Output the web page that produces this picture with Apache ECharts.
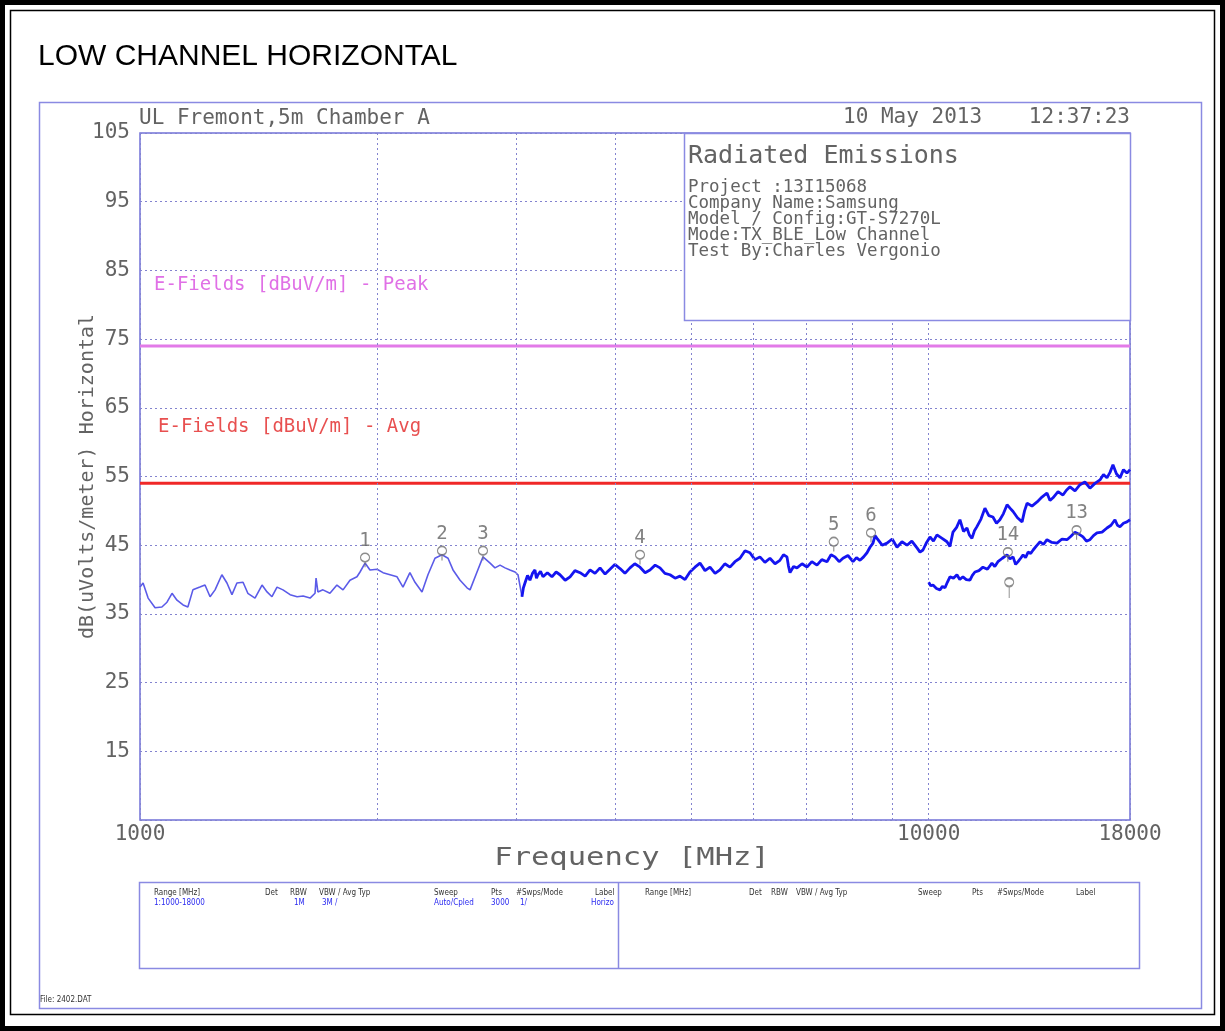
<!DOCTYPE html>
<html>
<head>
<meta charset="utf-8">
<script src="https://cdn.jsdelivr.net/npm/echarts@6/dist/echarts.min.js"></script>
<style>
html,body{margin:0;padding:0;background:#fff;}
#chart{width:1225px;height:1031px;}
</style>
</head>
<body>
<div id="chart"></div>
<script>
// ---------- data ----------
var yTicks = [15, 25, 35, 45, 55, 65, 75, 85, 95, 105];
var xGridFreqs = [2000, 3000, 4000, 5000, 6000, 7000, 8000, 9000];
var peakLimit = [[1000, 74], [18000, 74]];
var avgLimit = [[1000, 54], [18000, 54]];

var traceLow = [
 [1000,38.9],[1009,39.5],[1024,37.3],[1045,35.9],[1066,36.0],[1082,36.7],[1098,38.0],[1114,37.0],
 [1134,36.3],[1150,36.0],[1167,38.5],[1191,38.9],[1209,39.2],[1227,37.5],[1245,38.5],[1270,40.7],
 [1289,39.5],[1308,37.8],[1327,39.5],[1351,39.6],[1370,38.0],[1399,37.3],[1428,39.2],[1449,38.2],
 [1470,37.5],[1492,38.9],[1518,38.5],[1550,37.8],[1582,37.5],[1610,37.6],[1643,37.3],[1667,38.0],
 [1672,40.2],[1681,38.2],[1706,38.5],[1741,38.0],[1777,39.2],[1809,38.5],[1846,39.9],[1884,40.4],
 [1901,41.1],[1929,42.4],[1957,41.4],[1998,41.5],[2033,41.0],[2075,40.7],[2118,40.4],[2155,38.9],
 [2199,41.0],[2232,39.6],[2278,38.2],[2318,40.7],[2366,43.1],[2415,43.6],[2458,43.1],[2494,41.4],
 [2546,39.9],[2598,38.8],[2621,38.5],[2675,41.1],[2722,43.3],[2779,42.4],[2819,41.7],[2861,42.1],
 [2903,41.7],[2945,41.4],[2989,41.1],[3015,40.7],[3050,37.5]
];
var traceHigh = [
 [3050,37.5],[3063,38.8],[3077,39.5],[3100,40.6],[3122,39.9],[3145,40.9],[3168,41.4],[3182,40.2],
 [3196,40.7],[3220,41.2],[3243,40.4],[3285,41.0],[3329,40.4],[3370,41.1],[3408,40.7],[3460,39.9],
 [3510,40.4],[3560,41.3],[3614,41.0],[3668,40.5],[3721,41.4],[3775,40.9],[3831,41.7],[3888,40.8],
 [3944,41.5],[4000,42.2],[4061,41.6],[4120,40.9],[4181,41.7],[4240,42.3],[4305,41.8],[4370,41.0],
 [4432,41.4],[4500,42.1],[4564,41.7],[4630,40.9],[4699,40.7],[4770,40.2],[4838,40.5],[4910,40.0],
 [4981,41.1],[5055,41.8],[5129,42.4],[5205,41.3],[5281,41.8],[5360,40.9],[5437,41.4],[5515,42.3],
 [5598,41.8],[5680,42.6],[5764,43.1],[5850,44.2],[5934,43.9],[6020,42.9],[6110,43.3],[6200,42.5],
 [6291,43.1],[6385,42.3],[6477,42.8],[6545,43.6],[6612,43.3],[6640,42.0],[6671,41.0],[6740,41.9],
 [6808,41.7],[6910,42.3],[7010,41.8],[7110,42.6],[7217,42.1],[7320,42.9],[7431,42.6],[7520,43.6],
 [7606,43.3],[7700,42.6],[7786,43.1],[7900,43.5],[8017,42.6],[8100,43.2],[8183,42.8],[8270,43.3],
 [8352,43.9],[8426,44.7],[8500,45.3],[8550,46.4],[8600,46.0],[8730,45.0],[8855,45.3],[8990,45.9],
 [9117,44.7],[9250,45.5],[9387,45.0],[9520,45.6],[9665,44.6],[9750,44.0],[9835,44.3],[9940,45.4],
 [10039,46.2],[10140,45.6],[10245,46.5],[10400,46.0],[10549,45.5],[10640,44.8],[10735,46.9],[10850,47.6],
 [10956,48.7],[11070,47.0],[11183,47.5],[11260,46.5],[11346,46.0],[11430,47.1],[11513,47.7],[11650,48.8],
 [11785,50.4],[11920,49.3],[12063,49.1],[12190,48.2],[12311,48.7],[12440,49.6],[12572,50.9],[12680,50.4],
 [12794,49.9],[12960,49.0],[13136,48.4],[13230,50.0],[13328,51.1],[13520,50.7],[13724,51.3],[13920,52.0],
 [14125,52.6],[14250,51.5],[14375,51.9],[14590,52.8],[14800,52.3],[14950,53.0],[15107,53.5],[15330,52.9],
 [15555,53.8],[15780,54.2],[16014,53.3],[16250,54.0],[16489,54.5],[16660,55.3],[16829,54.8],[16980,55.6],
 [17127,56.7],[17300,55.4],[17481,54.8],[17660,56.0],[17840,55.5],[18000,56.0]
];
var traceAvg = [
 [10000,39.6],[10060,39.1],[10127,39.2],[10230,38.7],[10335,38.5],[10410,39.0],[10488,38.8],[10560,39.6],
 [10641,40.4],[10750,40.2],[10860,40.7],[10950,40.0],[11052,40.4],[11160,40.0],[11281,39.9],[11360,40.6],
 [11446,41.1],[11580,41.3],[11717,41.8],[11870,41.5],[12028,42.4],[12130,41.9],[12240,42.6],[12400,43.1],
 [12572,43.6],[12680,43.0],[12794,43.3],[12890,42.2],[12982,42.6],[13080,43.1],[13175,43.6],[13270,43.2],
 [13368,44.0],[13470,43.8],[13566,44.3],[13700,44.9],[13845,45.5],[13980,45.1],[14125,45.8],[14330,45.4],
 [14545,45.3],[14760,45.9],[14975,45.8],[15150,46.3],[15329,46.9],[15510,46.6],[15692,46.2],[15850,45.6],
 [16014,45.8],[16180,46.4],[16345,46.8],[16590,46.9],[16829,47.5],[17030,47.9],[17227,48.7],[17350,47.9],
 [17481,47.7],[17660,48.2],[17840,48.4],[18000,48.7]
];
var markerLabels = ['1', '2', '3', '4', '5', '6', '14', '13'];
var markerFreqs  = [1929, 2415, 2722, 4305, 7580, 8450, 12600, 15400];
var markerValues = [42.3, 43.3, 43.3, 42.7, 44.6, 45.9, 43.1, 46.3];
var lowMarker = [[12650, 37.3]];

var infoLines = ['Project :13I15068', 'Company Name:Samsung', 'Model / Config:GT-S7270L',
                 'Mode:TX_BLE_Low Channel', 'Test By:Charles Vergonio'];
var tableHeads = ['Range [MHz]', 'Det', 'RBW', 'VBW / Avg Typ', 'Sweep', 'Pts', '#Swps/Mode', 'Label'];
var tableRow = ['1:1000-18000', '', '1M', '3M /', 'Auto/Cpled', '3000', '1/', 'Horizo'];

// ---------- chart ----------
var MONO = '"DejaVu Sans Mono", "Liberation Mono", monospace';
var GRAY = '#636363';
var GRIDC = '#8383cf';
var headX1 = [154, 265, 290, 319, 434, 491, 516, 595];
var headX2 = [645, 749, 771, 796, 918, 972, 997, 1076];
var rowX = [154, 265, 294, 322, 434, 491, 520, 591];

var chart = echarts.init(document.getElementById('chart'), null, {renderer: 'canvas'});

function txt(t, x, y, font, fill, align, z) {
  return {type: 'text', z: z || 50, style: {text: t, x: x, y: y, font: font, fill: fill,
    align: align || 'left', verticalAlign: 'middle', textAlign: align || 'left', textVerticalAlign: 'middle'}};
}

var graphics = [
  {type: 'rect', silent: true, z: 200, shape: {x: 2.5, y: 2.5, width: 1220, height: 1026}, style: {fill: 'none', stroke: '#000', lineWidth: 5}},
  {type: 'rect', silent: true, z: 200, shape: {x: 10.5, y: 10.5, width: 1204, height: 1004}, style: {fill: 'none', stroke: '#000', lineWidth: 1.5}},
  {type: 'rect', silent: true, z: 1, shape: {x: 39.5, y: 102.5, width: 1162, height: 906}, style: {fill: 'none', stroke: '#8a8ae2', lineWidth: 1.5}},
  txt('LOW CHANNEL HORIZONTAL', 38, 57, '30px "Liberation Sans", Arial, sans-serif', '#000', 'left', 200),
  txt('UL Fremont,5m Chamber A', 139, 119, '21px ' + MONO, GRAY),
  txt('10 May 2013', 843, 118, '21px ' + MONO, GRAY),
  txt('12:37:23', 1130, 118, '21px ' + MONO, GRAY, 'right'),
  {type: 'rect', silent: true, z: 60, shape: {x: 684.5, y: 133.5, width: 446, height: 187}, style: {fill: '#fff', stroke: '#8a8ae2', lineWidth: 1.5}},
  txt('Radiated Emissions', 688, 156, '25px ' + MONO, GRAY, 'left', 61),
  txt('E-Fields [dBuV/m] - Peak', 154, 285, '19px ' + MONO, '#e070e6'),
  txt('E-Fields [dBuV/m] - Avg', 158, 427, '19px ' + MONO, '#e85050'),
  {type: 'text', z: 50, x: 632, y: 858, scaleX: 1.22, scaleY: 1, style: {text: 'Frequency [MHz]', x: 0, y: 0, font: '25px ' + MONO, fill: GRAY, align: 'center', verticalAlign: 'middle', textAlign: 'center', textVerticalAlign: 'middle'}},
  {type: 'rect', silent: true, z: 50, shape: {x: 139.5, y: 882.5, width: 1000, height: 86}, style: {fill: 'none', stroke: '#8a8ae2', lineWidth: 1.5}},
  {type: 'line', silent: true, z: 50, shape: {x1: 618.5, y1: 882.5, x2: 618.5, y2: 968.5}, style: {stroke: '#8a8ae2', lineWidth: 1.5}},
  txt('File: 2402.DAT', 40, 1000, '8px "DejaVu Sans Condensed", "Liberation Sans Narrow", sans-serif', '#333')
];
infoLines.forEach(function (t, i) {
  graphics.push(txt(t, 688, 187 + i * 16.2, '17.5px ' + MONO, GRAY, 'left', 61));
});
var TF = '8px "DejaVu Sans Condensed", "Liberation Sans Narrow", sans-serif';
tableHeads.forEach(function (t, i) {
  graphics.push(txt(t, headX1[i], 893, TF, '#333', 'left', 51));
  graphics.push(txt(t, headX2[i], 893, TF, '#333', 'left', 51));
});
tableRow.forEach(function (t, i) {
  graphics.push(txt(t, rowX[i], 903, TF, '#2a2af0', 'left', 51));
});

var markerPath = 'path://M5,1 A4,4 0 1,1 4.99,1 Z M5,9 L5,14';
var longMarkerPath = 'path://M5,1 A4,4 0 1,1 4.99,1 Z M5,9 L5,20';

var option = {
  backgroundColor: '#fff',
  animation: false,
  grid: {left: 140, top: 133, width: 990, height: 687, show: true, borderColor: '#7272d8', borderWidth: 1.5, backgroundColor: 'transparent'},
  xAxis: {
    type: 'log', logBase: 10, min: 1000, max: 18000,
    axisLine: {show: false}, axisTick: {show: false},
    axisLabel: {color: GRAY, fontFamily: MONO, fontSize: 21, margin: 4, formatter: function (v) { return String(Math.round(v)); }},
    splitLine: {show: true, lineStyle: {color: GRIDC, type: [2, 3], width: 1}},
    minorTick: {show: false}, minorSplitLine: {show: false}
  },
  yAxis: {
    type: 'value', min: 5, max: 105, interval: 10,
    name: 'dB(uVolts/meter) Horizontal', nameLocation: 'middle', nameGap: 42, nameRotate: 90,
    nameMoveOverlap: false,
    nameTextStyle: {color: GRAY, fontFamily: MONO, fontSize: 20},
    axisLine: {show: false}, axisTick: {show: false},
    axisLabel: {color: GRAY, fontFamily: MONO, fontSize: 21, margin: 10, formatter: function (v) { return yTicks.indexOf(v) >= 0 ? String(v) : ''; }},
    splitLine: {show: true, lineStyle: {color: GRIDC, type: [2, 3], width: 1}}
  },
  graphic: graphics,
  series: [
    {
      name: 'grid', type: 'line', data: [], silent: true,
      markLine: {silent: true, symbol: 'none', label: {show: false},
        lineStyle: {color: GRIDC, type: [2, 3], width: 1},
        data: xGridFreqs.map(function (f) { return {xAxis: f}; })}
    },
    {name: 'Peak limit', type: 'line', data: peakLimit, symbol: 'none', silent: true, z: 3,
      lineStyle: {color: '#e27ae8', width: 3}},
    {name: 'Avg limit', type: 'line', data: avgLimit, symbol: 'none', silent: true, z: 3,
      lineStyle: {color: '#f02828', width: 3}},
    {name: 'Trace low', type: 'line', data: traceLow, symbol: 'none', silent: true, z: 4,
      lineStyle: {color: '#5b5be8', width: 1.6}},
    {name: 'Trace high', type: 'line', data: traceHigh, symbol: 'none', silent: true, z: 4,
      lineStyle: {color: '#1414f0', width: 2.8}},
    {name: 'Trace avg', type: 'line', data: traceAvg, symbol: 'none', silent: true, z: 4,
      lineStyle: {color: '#1414f0', width: 2.8}},
    {name: 'Markers', type: 'scatter', silent: true, z: 6,
      data: markerFreqs.map(function (f, i) { return [f, markerValues[i]]; }),
      symbol: markerPath, symbolSize: [9, 14], symbolOffset: [0, -3.5],
      itemStyle: {color: 'rgba(0,0,0,0)', borderColor: '#707070', borderWidth: 1.4},
      label: {show: true, position: 'top', distance: 2, color: GRAY, fontFamily: MONO, fontSize: 19,
        formatter: function (p) { return markerLabels[p.dataIndex]; }}
    },
    {name: 'Marker low', type: 'scatter', silent: true, z: 6, data: lowMarker,
      symbol: longMarkerPath, symbolSize: [9, 20], symbolOffset: [0, -10],
      itemStyle: {color: 'rgba(0,0,0,0)', borderColor: '#707070', borderWidth: 1.4}}
  ]
};
chart.setOption(option);
</script>
</body>
</html>
